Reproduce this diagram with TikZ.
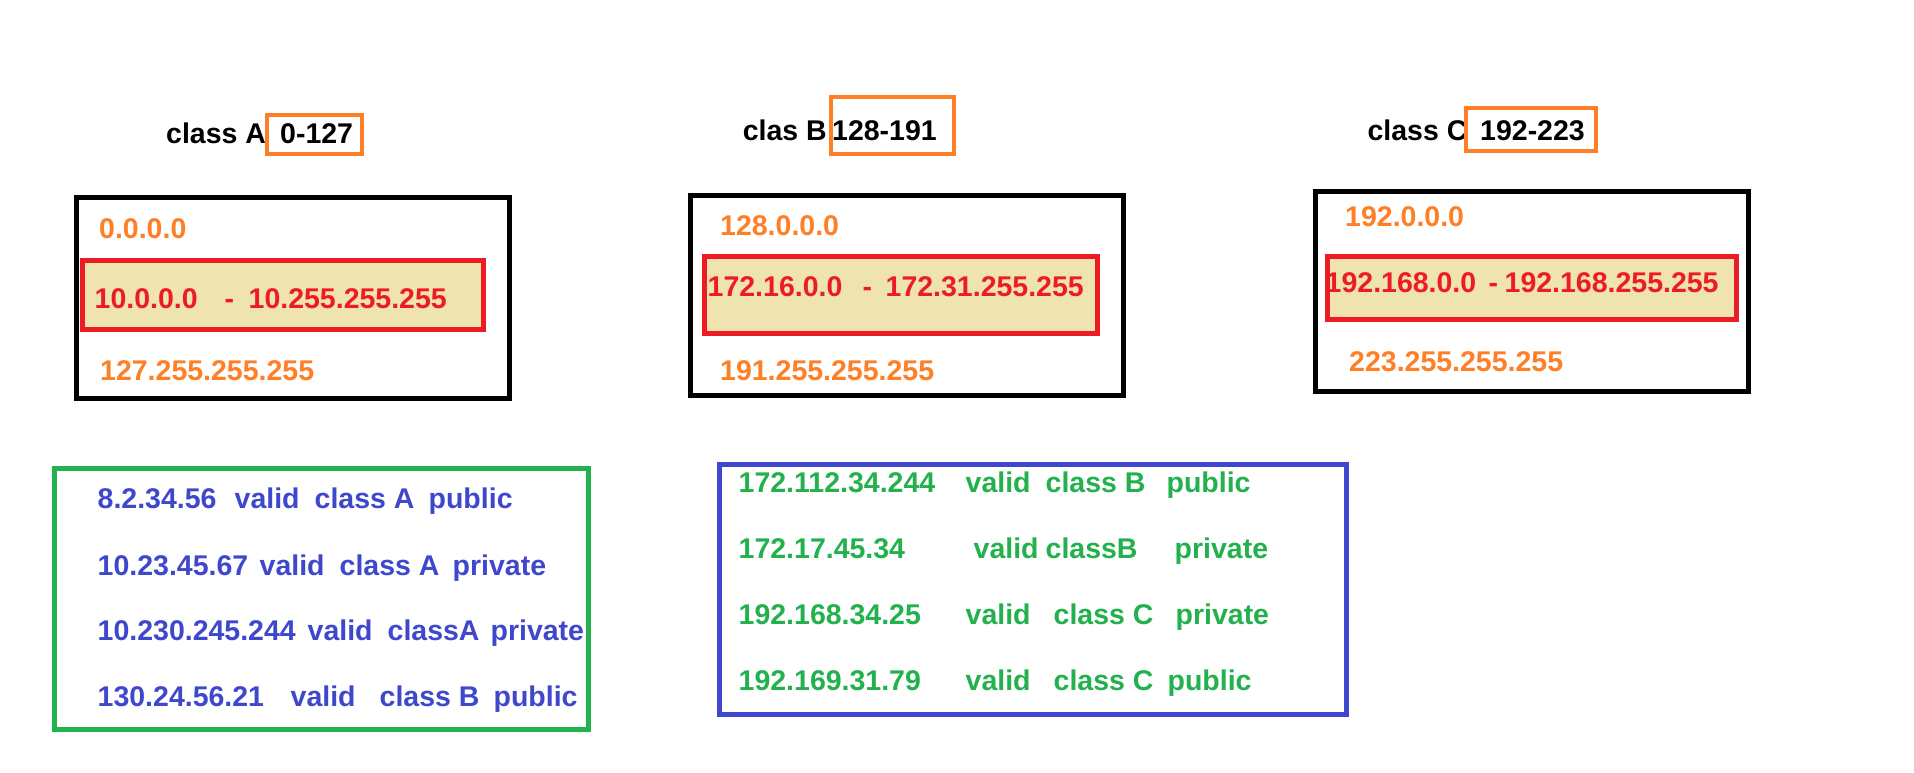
\documentclass[tikz,border=0pt]{standalone}
\usepackage{fontspec}
\setmainfont{Liberation Sans}
\definecolor{cOrange}{RGB}{255,127,39}
\definecolor{cRed}{RGB}{237,28,36}
\definecolor{cBeige}{RGB}{239,228,176}
\definecolor{cGreen}{RGB}{34,177,76}
\definecolor{cBlue}{RGB}{63,72,204}
\newcommand\wordat[2]{\rlap{\hspace*{#1pt}#2}}
\tikzset{
  txt/.style={anchor=base west, inner sep=0pt, font=\fontsize{28.5}{34}\selectfont\bfseries},
  rangebox/.style={draw=cOrange, line width=4pt},
  classbox/.style={draw=black, line width=5pt},
  privbox/.style={draw=cRed, fill=cBeige, line width=5pt},
  greenbox/.style={draw=cGreen, line width=5pt},
  bluebox/.style={draw=cBlue, line width=5pt},
}
\begin{document}
\begin{tikzpicture}[x=1pt,y=-1pt]
\useasboundingbox[fill=white] (0,0) rectangle (1914,773);

% ---------- class A ----------
\node[txt] (lblA) at (166,143.3) {class A};
\draw[rangebox] (266.6,115.3) rectangle (362.3,154);
\node[txt] (rngA) at (280,143.3) {0-127};
\draw[classbox] (76.5,197.5) rectangle (509.5,398.2);
\draw[privbox] (82.5,260.8) rectangle (483.5,329.2);
\node[txt, text=cOrange] (firstA) at (99,238.3) {0.0.0.0};
\node[txt, text=cRed] (privA) at (94,308.3) {\wordat{0}{10.0.0.0}\wordat{130}{-}\wordat{154}{10.255.255.255}};
\node[txt, text=cOrange] (lastA) at (100,380) {127.255.255.255};

% ---------- class B ----------
\node[txt] (lblB) at (742.6,141) {clas B};
\draw[rangebox] (830.7,97) rectangle (954,154);
\node[txt] (rngB) at (832,141) {128-191};
\draw[classbox] (690.5,195.8) rectangle (1123.5,395.8);
\draw[privbox] (704,256.5) rectangle (1097.5,333.5);
\node[txt, text=cOrange] (firstB) at (720,235) {128.0.0.0};
\node[txt, text=cRed] (privB) at (707,296.7) {\wordat{0}{172.16.0.0}\wordat{155}{-}\wordat{178}{172.31.255.255}};
\node[txt, text=cOrange] (lastB) at (720,380.7) {191.255.255.255};

% ---------- class C ----------
\node[txt] (lblC) at (1367.4,141) {class C};
\draw[rangebox] (1465.7,108) rectangle (1595.8,150.7);
\node[txt] (rngC) at (1480,141) {192-223};
\draw[classbox] (1315,191.8) rectangle (1748,391.8);
\draw[privbox] (1327.2,256.5) rectangle (1736.5,319.8);
\node[txt, text=cOrange] (firstC) at (1345,226.7) {192.0.0.0};
\node[txt, text=cRed] (privC) at (1325,292.7) {\wordat{0}{192.168.0.0}\wordat{163}{-}\wordat{179}{192.168.255.255}};
\node[txt, text=cOrange] (lastC) at (1349,371.7) {223.255.255.255};

% ---------- green box (blue text) ----------
\draw[greenbox] (54.5,468.5) rectangle (588.5,729.5);
\node[txt, text=cBlue] (g1) at (97,508) {\wordat{0}{8.2.34.56}\wordat{137}{valid}\wordat{217}{class A}\wordat{331}{public}};
\node[txt, text=cBlue] (g2) at (97,575) {\wordat{0}{10.23.45.67}\wordat{162}{valid}\wordat{242}{class A}\wordat{355}{private}};
\node[txt, text=cBlue] (g3) at (97,640) {\wordat{0}{10.230.245.244}\wordat{210}{valid}\wordat{290}{classA}\wordat{393}{private}};
\node[txt, text=cBlue] (g4) at (97,706) {\wordat{0}{130.24.56.21}\wordat{193}{valid}\wordat{282}{class B}\wordat{396}{public}};

% ---------- blue box (green text) ----------
\draw[bluebox] (719.5,464.2) rectangle (1346,714.2);
\node[txt, text=cGreen] (b1) at (738,492.7) {\wordat{0}{172.112.34.244}\wordat{227}{valid}\wordat{307}{class B}\wordat{428}{public}};
\node[txt, text=cGreen] (b2) at (738,558) {\wordat{0}{172.17.45.34}\wordat{235}{valid}\wordat{307}{classB}\wordat{436}{private}};
\node[txt, text=cGreen] (b3) at (738,624) {\wordat{0}{192.168.34.25}\wordat{227}{valid}\wordat{315}{class C}\wordat{437}{private}};
\node[txt, text=cGreen] (b4) at (738,690) {\wordat{0}{192.169.31.79}\wordat{227}{valid}\wordat{315}{class C}\wordat{429}{public}};
\end{tikzpicture}
\end{document}
